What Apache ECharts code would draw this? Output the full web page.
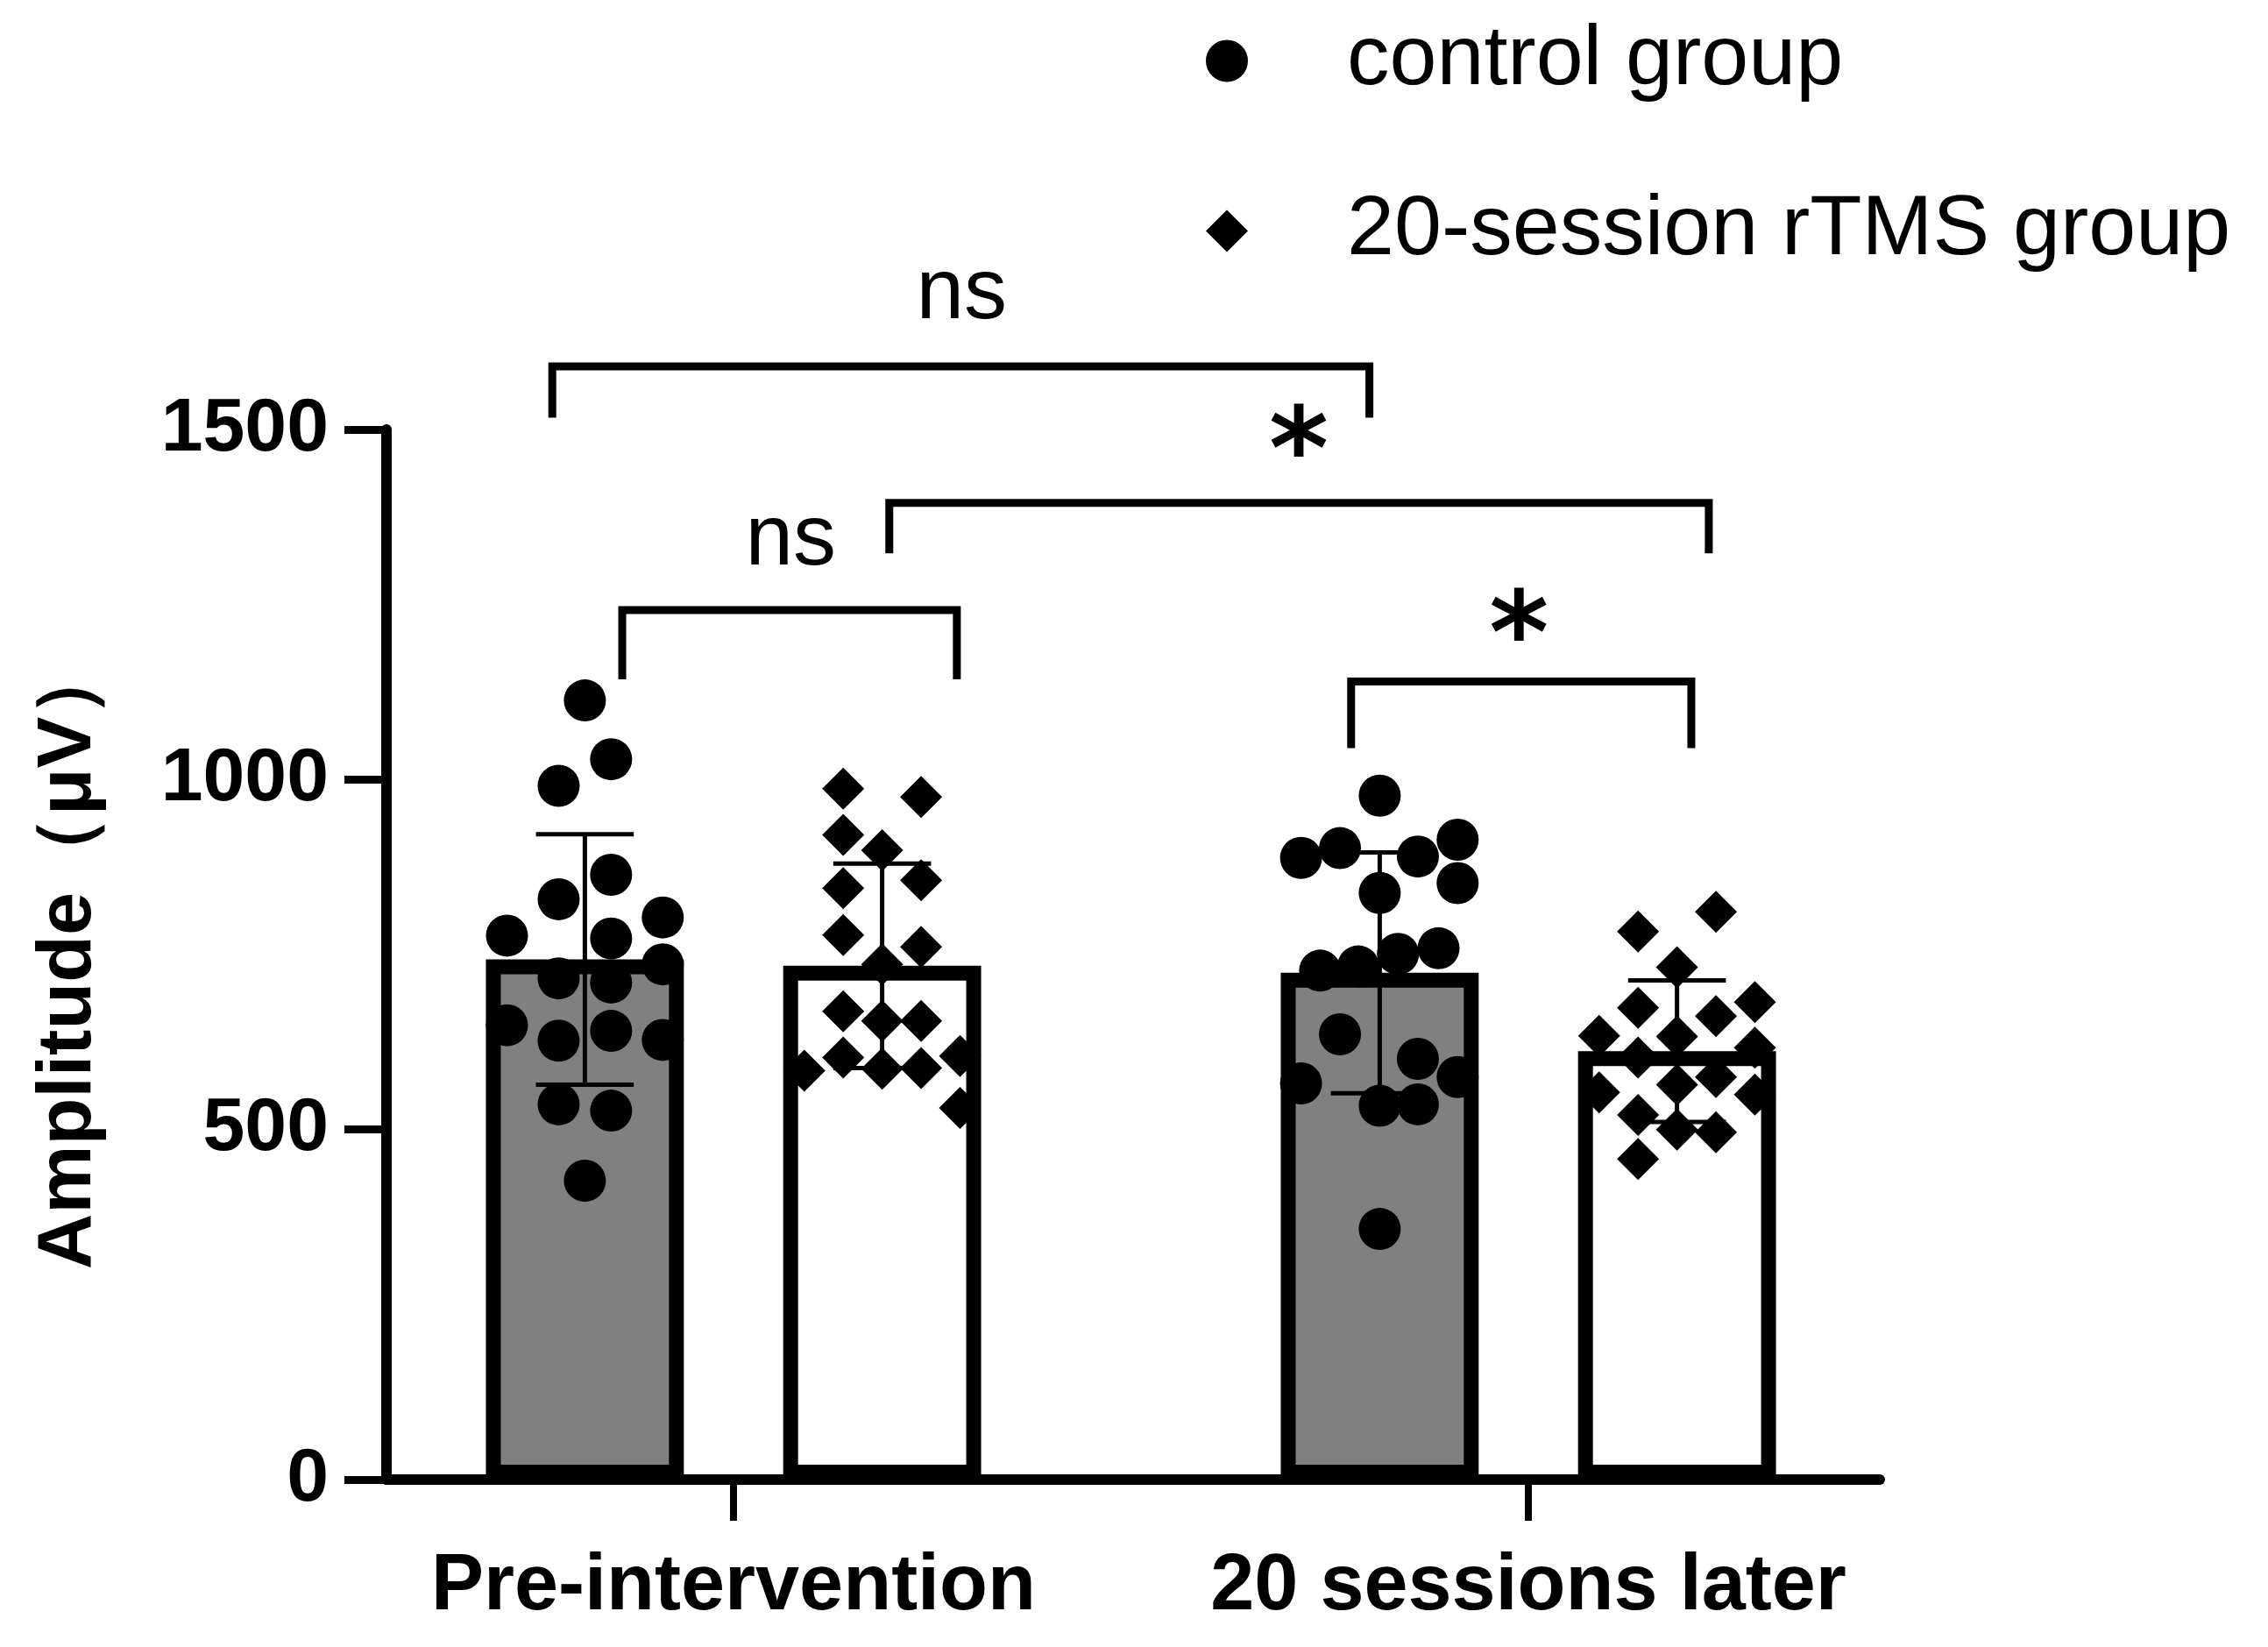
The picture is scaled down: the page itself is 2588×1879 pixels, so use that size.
<!DOCTYPE html>
<html>
<head>
<meta charset="utf-8">
<script src="https://cdn.jsdelivr.net/npm/echarts@6/dist/echarts.min.js"></script>
<style>
html, body { margin: 0; padding: 0; background: #ffffff; }
#chart { width: 2588px; height: 1879px; }
</style>
</head>
<body>
<div id="chart"></div>
<script>
// ---------------- data ----------------
const categories = ['Pre-intervention', '20 sessions later'];
const seriesNames = ['control group', '20-session rTMS group'];
const yTicks = [0, 500, 1000, 1500];

// bar heights (mean) and error bars (SD), one value per category
const controlMean = [743, 724];
const controlSD = [179, 172];
const rtmsMean = [734, 612];
const rtmsSD = [146, 101];

// individual subjects (amplitude, μV) and their horizontal spread within the bar (category units)
const controlPre = [1113, 1029, 991, 864, 829, 777, 773, 803, 736, 716, 710, 649, 627, 641, 628, 536, 527, 427];
const controlPreSpread = [0, 0.033, -0.033, 0.033, -0.033, -0.098, 0.033, 0.098, 0.098, -0.033, 0.033, -0.098, -0.033, 0.033, 0.098, -0.033, 0.033, 0];

const rtmsPre = [987, 975, 921, 899, 845, 856, 778, 761, 736, 669, 655, 655, 584, 603, 587, 588, 605, 531];
const rtmsPreSpread = [-0.049, 0.049, -0.049, 0, -0.049, 0.049, -0.049, 0.049, 0, -0.049, 0, 0.049, -0.098, -0.049, 0, 0.049, 0.098, 0.098];

const controlPost = [977, 888, 902, 890, 914, 852, 838, 727, 733, 751, 759, 636, 601, 566, 575, 534, 536, 358];
const controlPostSpread = [0, -0.099, -0.05, 0.048, 0.098, 0.098, 0, -0.075, -0.027, 0.023, 0.074, -0.05, 0.048, -0.099, 0.098, 0, 0.048, 0];

const rtmsPost = [811, 783, 732, 674, 662, 682, 634, 633, 617, 603, 553, 564, 575, 550, 521, 500, 496, 458];
const rtmsPostSpread = [0.049, -0.049, 0, -0.049, 0.049, 0.098, -0.098, 0, 0.098, -0.049, -0.098, 0, 0.049, 0.098, -0.049, 0, 0.049, -0.049];

// significance brackets (x in category units, y in μV)
const bracketLabels = ['ns', '*', 'ns', '*'];
const bracketLeft = [0.772, 1.196, 0.860, 1.777];
const bracketRight = [1.800, 2.227, 1.281, 2.205];
const bracketTop = [1590, 1395, 1242, 1140];
const bracketFoot = [1517, 1323, 1143, 1045];
const bracketLabelX = [1.287, 1.711, 1.072, 1.988];
const bracketLabelY = [1693, 1458, 1341, 1195];

// ---------------- layout constants ----------------
const GROUP_OFFSET = 0.187;
const BAR_W = 0.249;
const CAP_W = 0.123;
const BAR_LW = 17;

function points(catIdx, offset, values, spread) {
  return values.map((v, i) => [catIdx + 1 + offset + spread[i], v]);
}

function barRenderer(fill) {
  return function (params, api) {
    const x = api.value(0), m = api.value(1), sd = api.value(2);
    const tl = api.coord([x - BAR_W / 2, m]);
    const br = api.coord([x + BAR_W / 2, 0]);
    const top = api.coord([x, m + sd]);
    const bot = api.coord([x, m - sd]);
    const capHalf = api.size([CAP_W, 0])[0] / 2;
    const lw = BAR_LW;
    return {
      type: 'group',
      children: [
        { type: 'rect', shape: { x: tl[0] + lw / 2, y: tl[1] + lw / 2, width: br[0] - tl[0] - lw, height: br[1] - tl[1] - lw },
          style: { fill: fill, stroke: '#000', lineWidth: lw } },
        { type: 'line', shape: { x1: top[0], y1: top[1], x2: bot[0], y2: bot[1] }, style: { stroke: '#000', lineWidth: 5 } },
        { type: 'line', shape: { x1: top[0] - capHalf, y1: top[1], x2: top[0] + capHalf, y2: top[1] }, style: { stroke: '#000', lineWidth: 5 } },
        { type: 'line', shape: { x1: bot[0] - capHalf, y1: bot[1], x2: bot[0] + capHalf, y2: bot[1] }, style: { stroke: '#000', lineWidth: 5 } }
      ]
    };
  };
}

function bracketRenderer(params, api) {
  const i = params.dataIndex;
  const l = api.coord([api.value(0), api.value(2)]);
  const r = api.coord([api.value(1), api.value(2)]);
  const fl = api.coord([api.value(0), api.value(3)]);
  const fr = api.coord([api.value(1), api.value(3)]);
  const lab = api.coord([api.value(4), api.value(5)]);
  const isStar = bracketLabels[i] === '*';
  return {
    type: 'group',
    children: [
      { type: 'polyline', shape: { points: [fl, l, r, fr] },
        style: { stroke: '#000', lineWidth: 9, fill: null, lineJoin: 'miter', lineCap: 'butt' } },
      { type: 'text', x: lab[0], y: lab[1],
        style: {
          text: bracketLabels[i],
          fill: '#000',
          align: 'center',
          verticalAlign: 'middle',
          fontSize: isStar ? 130 : 98,
          fontWeight: isStar ? 'bold' : 'normal',
          fontFamily: isStar ? 'DejaVu Sans' : "'Liberation Sans Narrow', 'Liberation Sans', sans-serif"
        } }
    ]
  };
}

const option = {
  backgroundColor: '#ffffff',
  animation: false,
  grid: { left: 441, right: 443, top: 490, bottom: 191, containLabel: false },
  legend: {
    orient: 'vertical',
    left: 1371,
    top: 16,
    itemWidth: 48,
    itemHeight: 48,
    itemGap: 97,
    selectedMode: false,
    textStyle: { fontSize: 97, fontFamily: 'Liberation Sans', color: '#000', padding: [0, 0, 0, 108] },
    data: [
      { name: seriesNames[0], icon: 'circle' },
      { name: seriesNames[1], icon: 'diamond' }
    ]
  },
  xAxis: {
    type: 'value',
    min: 0.5634,
    max: 2.4421,
    splitLine: { show: false },
    axisLine: { show: true, onZero: false, lineStyle: { color: '#000', width: 12 } },
    axisTick: { show: true, customValues: [1, 2], length: 47, lineStyle: { color: '#000', width: 8 } },
    axisLabel: {
      customValues: [1, 2],
      formatter: (v) => categories[Math.round(v) - 1] || '',
      fontSize: 90, fontWeight: 'bold', fontFamily: 'Liberation Sans', color: '#000', margin: 78
    }
  },
  yAxis: {
    type: 'value',
    min: yTicks[0],
    max: yTicks[yTicks.length - 1],
    interval: 500,
    splitLine: { show: false },
    axisLine: { show: true, onZero: false, lineStyle: { color: '#000', width: 12 } },
    axisTick: { show: true, length: 48, lineStyle: { color: '#000', width: 9 } },
    axisLabel: { formatter: (v) => String(v), fontSize: 86, fontWeight: 'bold', fontFamily: 'Liberation Sans', color: '#000', margin: 66 },
    name: 'Amplitude（μV）',
    nameLocation: 'middle',
    nameGap: 318,
    nameTextStyle: { fontSize: 88, fontWeight: 'bold', fontFamily: 'Liberation Sans', color: '#000' }
  },
  series: [
    {
      type: 'custom', name: 'control bars', z: 2,
      renderItem: barRenderer('#808080'),
      encode: { x: 0, y: 1 },
      data: categories.map((c, i) => [i + 1 - GROUP_OFFSET, controlMean[i], controlSD[i]])
    },
    {
      type: 'custom', name: 'rTMS bars', z: 2,
      renderItem: barRenderer('#ffffff'),
      encode: { x: 0, y: 1 },
      data: categories.map((c, i) => [i + 1 + GROUP_OFFSET, rtmsMean[i], rtmsSD[i]])
    },
    {
      type: 'scatter', name: seriesNames[0], z: 3,
      symbol: 'circle', symbolSize: 48,
      itemStyle: { color: '#000', opacity: 1 },
      data: points(0, -GROUP_OFFSET, controlPre, controlPreSpread).concat(points(1, -GROUP_OFFSET, controlPost, controlPostSpread))
    },
    {
      type: 'scatter', name: seriesNames[1], z: 3,
      symbol: 'diamond', symbolSize: 48,
      itemStyle: { color: '#000', opacity: 1 },
      data: points(0, GROUP_OFFSET, rtmsPre, rtmsPreSpread).concat(points(1, GROUP_OFFSET, rtmsPost, rtmsPostSpread))
    },
    {
      type: 'custom', name: 'significance', z: 4, clip: false,
      renderItem: bracketRenderer,
      encode: { x: [0, 1, 4], y: [2, 3, 5] },
      data: bracketLabels.map((t, i) => [bracketLeft[i], bracketRight[i], bracketTop[i], bracketFoot[i], bracketLabelX[i], bracketLabelY[i]])
    }
  ]
};

const chart = echarts.init(document.getElementById('chart'), null, { renderer: 'canvas' });
chart.setOption(option);
</script>
</body>
</html>
